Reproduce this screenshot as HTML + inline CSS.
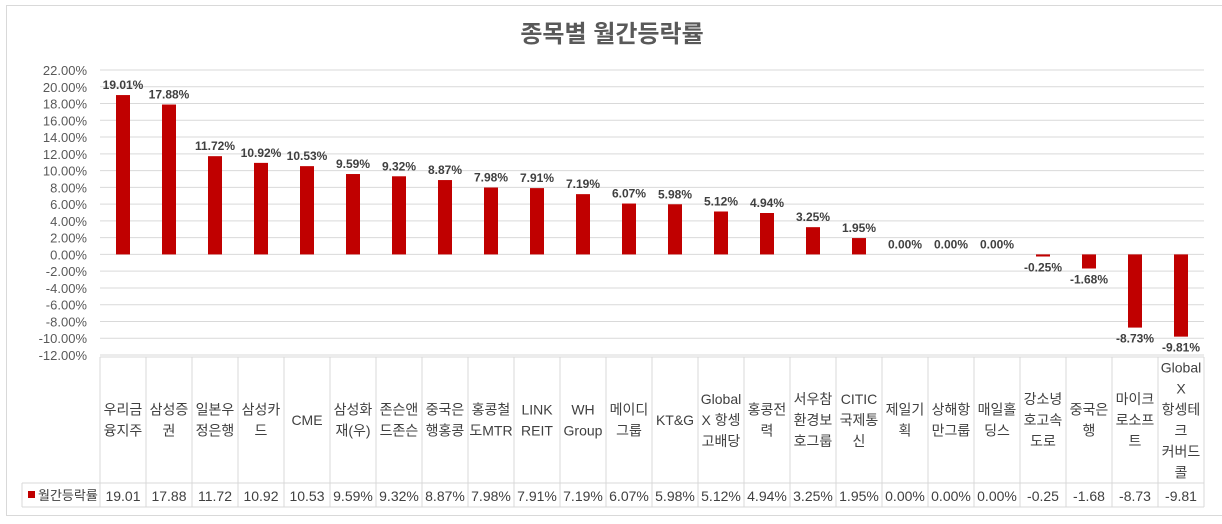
<!DOCTYPE html>
<html><head><meta charset="utf-8">
<style>
body{margin:0;background:#fff;width:1222px;height:519px;overflow:hidden;font-family:"Liberation Sans","Noto Sans CJK KR",sans-serif;}
svg text{font-family:"Liberation Sans","Noto Sans CJK KR",sans-serif;}
</style></head>
<body>
<svg id="chart" width="1222" height="519" xmlns="http://www.w3.org/2000/svg">
<rect x="0" y="0" width="1222" height="519" fill="#fff"/>
<rect x="6.5" y="5.5" width="1220" height="510" fill="none" stroke="#d9d9d9"/>
<text x="612" y="42" text-anchor="middle" font-size="24" font-weight="bold" fill="#595959">종목별 월간등락률</text>
<g id="grid"></g><g id="bars"></g><g id="table"></g>
</svg>
<script>
const categories=[["우리금","융지주"],["삼성증","권"],["일본우","정은행"],["삼성카","드"],["CME"],["삼성화","재(우)"],["존슨앤","드존슨"],["중국은","행홍콩"],["홍콩철","도MTR"],["LINK","REIT"],["WH","Group"],["메이디","그룹"],["KT&G"],["Global","X 항셍","고배당"],["홍콩전","력"],["서우참","환경보","호그룹"],["CITIC","국제통","신"],["제일기","획"],["상해항","만그룹"],["매일홀","딩스"],["강소녕","호고속","도로"],["중국은","행"],["마이크","로소프","트"],["Global","X","항셍테","크","커버드","콜"]];
const values=[19.01,17.88,11.72,10.92,10.53,9.59,9.32,8.87,7.98,7.91,7.19,6.07,5.98,5.12,4.94,3.25,1.95,0,0,0,-0.25,-1.68,-8.73,-9.81];
const tableLabels=["19.01","17.88","11.72","10.92","10.53","9.59%","9.32%","8.87%","7.98%","7.91%","7.19%","6.07%","5.98%","5.12%","4.94%","3.25%","1.95%","0.00%","0.00%","0.00%","-0.25","-1.68","-8.73","-9.81"];
const ticks=[22,20,18,16,14,12,10,8,6,4,2,0,-2,-4,-6,-8,-10,-12];
const NS="http://www.w3.org/2000/svg";
const X0=100,X1=1204,Y_TOP=70,Y_BOT=355,VMAX=22,VMIN=-12;
const band=(X1-X0)/categories.length;
function y(v){return Y_TOP+(VMAX-v)/(VMAX-VMIN)*(Y_BOT-Y_TOP);}
function xc(i){return X0+band*(i+0.5);}
function mk(tag,attrs,parent,txt){const e=document.createElementNS(NS,tag);for(const k in attrs)e.setAttribute(k,attrs[k]);if(txt!==undefined)e.textContent=txt;parent.appendChild(e);return e;}
const grid=document.getElementById('grid'),bars=document.getElementById('bars'),tb=document.getElementById('table');
ticks.forEach(t=>{
 const l=mk('line',{x1:X0,x2:X1,y1:y(t),y2:y(t),stroke:'#d9d9d9','stroke-width':1},grid);
 
 
 const tx=mk('text',{x:87,y:y(t)+5,'text-anchor':'end','font-size':13,fill:'#595959'},grid,t.toFixed(2)+'%');
 
 
});
values.forEach((v,i)=>{
 const top=Math.min(y(v),y(0)),h=Math.abs(y(v)-y(0));
 const r=mk('rect',{x:xc(i)-7,y:top,width:14,height:h,fill:'#c00000'},bars);
 
 
 const ly=v>=0?y(v)-6:y(v)+15;
 const t=mk('text',{x:xc(i),y:ly,'text-anchor':'middle','font-size':12,'font-weight':'bold',fill:'#404040'},bars,v.toFixed(2)+'%');
 
 
});
// table
const TT=357,TR=483,TB=507;
mk('line',{x1:X0,x2:X1,y1:TT,y2:TT,stroke:'#d9d9d9'},tb);
mk('line',{x1:22,x2:X1,y1:TR,y2:TR,stroke:'#d9d9d9'},tb);
mk('line',{x1:22,x2:X1,y1:TB,y2:TB,stroke:'#d9d9d9'},tb);
mk('line',{x1:22,x2:22,y1:TR,y2:TB,stroke:'#d9d9d9'},tb);
for(let i=0;i<=categories.length;i++){mk('line',{x1:X0+band*i,x2:X0+band*i,y1:TT,y2:TB,stroke:'#d9d9d9'},tb);}
categories.forEach((c,i)=>{
 const lh=21,mid=(TT+TR)/2,start=mid-(c.length-1)*lh/2;
 c.forEach((s,k)=>{
  const t=mk('text',{x:xc(i),y:start+k*lh+5,'text-anchor':'middle','font-size':14,fill:'#404040'},tb,s);
  
  
 });
 const t=mk('text',{x:xc(i),y:TB-6,'text-anchor':'middle','font-size':14,fill:'#404040'},tb,tableLabels[i]);
 
 
});
const lk=mk('rect',{x:28,y:491,width:7,height:7,fill:'#c00000'},tb);


const lt=mk('text',{x:38,y:500,'font-size':13,fill:'#404040'},tb,'월간등락률');


</script>
</body></html>
